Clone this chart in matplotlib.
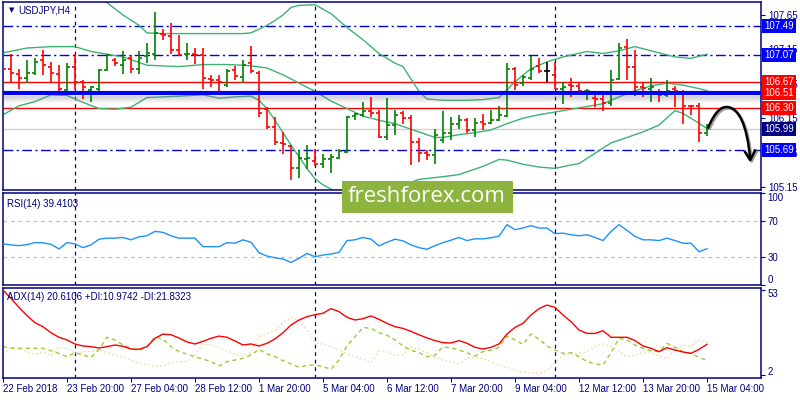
import matplotlib as mpl

mpl.use("Agg")
import matplotlib.pyplot as plt
import numpy as np
from matplotlib.patches import Rectangle
from matplotlib.path import Path
from matplotlib.patches import PathPatch
from matplotlib.transforms import offset_copy, blended_transform_factory

plt.rcParams["font.family"] = ["Liberation Sans", "DejaVu Sans"]

NAVY = "#000080"
UP = "#008000"
DOWN = "#ff0000"

# ---- H4 bars, 22 Feb 12:00 .. 15 Mar 04:00 ----
opens = [107.14, 106.87, 106.79, 106.74, 106.80, 106.99, 106.90, 106.79, 106.56, 106.90,
         106.68, 106.56, 106.57, 106.85, 107.00, 106.92, 107.03, 106.87, 107.05, 107.09,
         107.38, 107.35, 107.14, 107.08, 107.08, 107.07, 106.72, 106.70, 106.63, 106.85,
         106.75, 106.95, 106.81, 106.29, 106.02, 105.79, 105.74, 105.42, 105.55, 105.53,
         105.49, 105.55, 105.57, 105.66, 106.18, 106.20, 106.25, 106.22, 105.88, 106.05,
         106.22, 106.15, 105.81, 105.65, 105.62, 105.84, 105.93, 106.07, 106.13, 105.98,
         106.10, 106.08, 106.13, 106.18, 106.87, 106.66, 106.74, 106.91, 106.83, 106.78,
         106.58, 106.63, 106.62, 106.54, 106.45, 106.43, 106.37, 106.72, 107.18, 106.90,
         106.60, 106.58, 106.51, 106.49, 106.58, 106.51, 106.33, 106.32, 105.93]
highs = [107.41, 107.09, 106.86, 107.00, 107.03, 107.14, 106.96, 106.92, 106.95, 107.09,
         106.70, 106.62, 106.87, 107.09, 107.03, 107.12, 107.07, 107.12, 107.25, 107.70,
         107.44, 107.54, 107.36, 107.24, 107.17, 107.17, 106.78, 106.78, 106.87, 106.91,
         106.99, 107.20, 106.83, 106.31, 106.17, 105.95, 105.76, 105.69, 105.76, 105.70,
         105.63, 105.63, 105.70, 106.18, 106.23, 106.39, 106.46, 106.27, 106.44, 106.27,
         106.25, 106.20, 105.86, 105.69, 106.00, 106.25, 106.17, 106.20, 106.15, 106.15,
         106.21, 106.27, 106.32, 106.95, 106.90, 106.78, 107.05, 107.03, 106.97, 106.97,
         106.68, 106.73, 106.67, 106.58, 106.51, 106.49, 106.85, 107.24, 107.30, 107.14,
         106.68, 106.74, 106.57, 106.70, 106.62, 106.56, 106.34, 106.37, 106.07]
lows = [106.85, 106.66, 106.58, 106.66, 106.78, 106.78, 106.68, 106.51, 106.55, 106.56,
        106.43, 106.38, 106.55, 106.83, 106.91, 106.79, 106.81, 106.79, 106.95, 106.99,
        107.29, 107.08, 107.05, 106.99, 106.94, 106.57, 106.60, 106.55, 106.60, 106.70,
        106.66, 106.80, 106.16, 106.00, 105.76, 105.63, 105.25, 105.28, 105.41, 105.46,
        105.42, 105.35, 105.55, 105.65, 106.12, 106.16, 106.17, 105.86, 105.84, 105.91,
        106.07, 105.47, 105.52, 105.54, 105.49, 105.79, 105.83, 106.00, 105.94, 105.88,
        105.98, 106.07, 106.11, 106.17, 106.56, 106.62, 106.70, 106.81, 106.68, 106.57,
        106.36, 106.46, 106.49, 106.42, 106.31, 106.25, 106.33, 106.70, 106.70, 106.47,
        106.46, 106.39, 106.38, 106.46, 106.31, 106.07, 106.20, 105.81, 105.89]
closes = [106.87, 106.81, 106.74, 106.81, 106.97, 106.92, 106.81, 106.57, 106.89, 106.68,
          106.60, 106.60, 106.85, 107.07, 106.95, 107.00, 106.87, 107.03, 107.10, 107.39,
          107.36, 107.14, 107.07, 107.09, 107.07, 106.73, 106.70, 106.67, 106.84, 106.76,
          106.92, 106.83, 106.23, 106.02, 105.81, 105.77, 105.42, 105.57, 105.57, 105.48,
          105.55, 105.59, 105.68, 106.17, 106.21, 106.25, 106.22, 105.87, 106.05, 106.20,
          106.15, 105.81, 105.65, 105.62, 105.91, 105.93, 106.07, 106.13, 105.98, 106.08,
          106.07, 106.13, 106.20, 106.87, 106.63, 106.75, 106.86, 106.83, 106.83, 106.58,
          106.60, 106.62, 106.55, 106.55, 106.43, 106.37, 106.70, 107.17, 106.90, 106.60,
          106.59, 106.60, 106.49, 106.55, 106.54, 106.33, 106.32, 105.93, 105.99]

# ---- Bollinger bands, read as (bar, price) vertices ----
bb_up_x = [0, 4, 8, 11, 13, 15, 17, 18, 20, 24, 28, 30, 31, 33, 34, 35, 36, 37, 39, 41, 43,
           45, 47, 49, 50, 51, 52, 53, 55, 58, 60, 62, 63, 64, 66, 68, 70, 73, 75, 77, 79,
           81, 84, 86, 88]
bb_up_y = [108.15, 108.12, 108.05, 107.95, 107.83, 107.65, 107.50, 107.39, 107.38, 107.38,
           107.38, 107.38, 107.39, 107.50, 107.57, 107.65, 107.76, 107.79, 107.80, 107.67,
           107.47, 107.29, 107.09, 106.95, 106.90, 106.72, 106.54, 106.43, 106.41, 106.41,
           106.42, 106.45, 106.56, 106.68, 106.87, 106.97, 107.04, 107.12, 107.09, 107.13,
           107.19, 107.13, 107.04, 107.02, 107.08]
bb_mid_x = [0, 3, 6, 9, 11, 13, 15, 17, 18, 22, 25, 28, 30, 31, 33, 35, 37, 39, 41, 43, 45,
            47, 49, 50, 52, 54, 55, 57, 59, 61, 63, 65, 67, 69, 71, 73, 75, 77, 79, 81, 83,
            85, 87, 88]
bb_mid_y = [107.10, 107.17, 107.19, 107.19, 107.12, 107.08, 107.04, 106.96, 106.92, 106.90,
            106.93, 106.93, 106.92, 106.91, 106.88, 106.78, 106.66, 106.54, 106.40, 106.29,
            106.18, 106.12, 106.07, 106.03, 105.95, 105.87, 105.87, 105.91, 105.94, 105.98,
            106.07, 106.15, 106.20, 106.24, 106.28, 106.32, 106.36, 106.46, 106.55, 106.62,
            106.66, 106.63, 106.58, 106.55]
bb_lo_x = [0, 2, 4, 6, 8, 10, 12, 14, 16, 18, 22, 25, 27, 29, 31, 32, 33, 34, 35, 36, 37,
           38, 39, 40, 41, 43, 45, 47, 49, 50, 52, 55, 57, 60, 62, 63, 65, 67, 69, 71, 72,
           74, 76, 78, 80, 82, 84, 85, 86, 88]
bb_lo_y = [106.20, 106.33, 106.39, 106.49, 106.48, 106.38, 106.29, 106.28, 106.31, 106.45,
           106.47, 106.49, 106.44, 106.46, 106.47, 106.41, 106.29, 106.12, 105.94, 105.76,
           105.59, 105.42, 105.27, 105.18, 105.12, 105.01, 104.96, 104.98, 105.11, 105.18,
           105.26, 105.30, 105.33, 105.45, 105.55, 105.54, 105.48, 105.44, 105.42, 105.47,
           105.49, 105.64, 105.79, 105.87, 105.95, 106.05, 106.26, 106.22, 106.15, 106.00]

# ---- RSI(14) ----
rsi = [44.7, 43.6, 42.8, 43.9, 46.1, 45.8, 44.3, 39.2, 46.1, 44.7,
       40.6, 43.6, 49.8, 50.9, 50.9, 51.7, 49.1, 52.4, 53.5, 58.3,
       57.2, 53.5, 50.9, 50.9, 50.9, 41.7, 41.7, 41.7, 46.1, 45.4,
       49.1, 46.5, 35.1, 31.5, 29.6, 28.2, 24.5, 28.9, 34.4, 30.7,
       32.6, 33.7, 35.5, 48.3, 49.1, 51.7, 49.8, 42.5, 46.5, 49.8,
       48.0, 43.6, 40.6, 38.8, 42.8, 46.1, 48.7, 51.7, 48.3, 50.2,
       50.2, 51.3, 53.1, 65.6, 60.1, 61.9, 64.5, 61.9, 61.9, 55.7,
       56.4, 54.6, 53.5, 54.6, 51.7, 48.3, 58.3, 65.6, 59.4, 52.8,
       49.1, 49.1, 48.3, 50.9, 48.3, 45.4, 45.4, 36.2, 39.4]

# ---- ADX(14), +DI, -DI ----
adx = [53.0, 48.0, 42.6, 37.7, 33.5, 31.1, 27.5, 24.8, 23.2, 20.8,
       19.6, 19.2, 18.4, 19.2, 20.2, 19.4, 17.8, 17.6, 19.2, 24.2,
       26.7, 26.3, 24.4, 22.0, 20.8, 22.4, 24.2, 25.5, 24.8, 22.6,
       20.2, 20.8, 19.6, 21.2, 23.8, 27.5, 32.1, 35.1, 37.1, 38.3,
       39.1, 41.9, 40.1, 36.7, 35.1, 35.9, 37.5, 35.5, 33.1, 31.1,
       30.1, 28.3, 26.3, 24.4, 22.8, 21.6, 21.4, 22.8, 21.2, 18.8,
       17.8, 18.8, 20.8, 26.7, 30.7, 33.1, 38.1, 41.9, 44.0, 42.6,
       38.1, 34.1, 29.1, 27.1, 27.1, 28.7, 24.8, 24.8, 24.8, 22.8,
       19.6, 18.2, 16.2, 18.6, 17.2, 16.0, 15.2, 17.6, 20.6]
plus_di = [19.2, 18.4, 18.2, 18.2, 18.2, 18.2, 16.8, 15.2, 13.2, 15.6,
           14.2, 12.8, 17.6, 24.8, 23.2, 20.2, 18.2, 16.8, 19.2, 25.2,
           23.6, 19.2, 16.2, 14.8, 13.2, 11.8, 10.3, 7.7, 10.3, 11.2,
           12.2, 14.2, 17.6, 14.8, 13.2, 10.8, 8.9, 6.9, 8.1, 8.3,
           7.3, 5.7, 11.2, 19.6, 25.2, 30.7, 30.1, 27.5, 26.0, 23.2,
           19.6, 17.0, 15.6, 13.2, 14.0, 19.2, 18.4, 17.2, 15.6, 13.6,
           16.2, 17.2, 18.8, 25.5, 23.2, 20.6, 26.7, 23.6, 19.6, 17.2,
           15.2, 15.6, 13.2, 10.3, 8.9, 8.3, 15.6, 24.2, 23.2, 20.2,
           18.2, 16.6, 16.2, 21.2, 18.8, 16.2, 15.2, 12.8, 11.0]
minus_di = [14.2, 18.8, 18.2, 16.2, 14.6, 16.2, 13.8, 18.8, 18.4, 15.2,
            16.2, 16.4, 17.2, 15.6, 14.0, 13.0, 11.2, 9.3, 8.7, 7.3,
            7.7, 9.7, 10.3, 10.3, 14.2, 20.8, 20.2, 18.8, 16.8, 14.6,
            13.6, 15.6, 25.2, 27.1, 28.7, 33.5, 36.7, 34.5, 29.1, 21.6,
            20.8, 19.2, 17.2, 14.8, 13.2, 11.8, 9.7, 16.8, 16.0, 14.0,
            14.2, 19.2, 17.6, 15.6, 12.8, 11.2, 10.0, 8.9, 12.2, 13.2,
            12.0, 10.3, 7.9, 6.7, 5.3, 4.1, 3.7, 3.1, 4.9, 9.7,
            14.0, 14.8, 15.2, 16.2, 19.2, 20.8, 19.2, 16.2, 13.2, 14.2,
            15.6, 15.6, 13.6, 12.2, 17.6, 19.8, 19.2, 23.6, 21.8]

# ---- drawn objects ----
blue_levels = [107.49, 107.07, 105.69]
red_levels = [106.67, 106.30]
key_level = 106.51
bid_level = 105.99
separators = [9, 39, 69]
price_ticks = [107.65, 107.15, 106.65, 106.15, 105.65, 105.15]
price_boxes = [(107.49, "#0000ff"), (107.07, "#0000ff"), (106.67, "#ff0000"),
               (106.51, "#ff0000"), (106.30, "#ff0000"), (105.99, NAVY),
               (105.69, "#0000ff")]
date_ticks = [0, 8, 16, 24, 32, 40, 48, 56, 64, 72, 80, 88]
date_labels = ["22 Feb 2018", "23 Feb 20:00", "27 Feb 04:00", "28 Feb 12:00",
               "1 Mar 20:00", "5 Mar 04:00", "6 Mar 12:00", "7 Mar 20:00",
               "9 Mar 04:00", "12 Mar 12:00", "13 Mar 20:00", "15 Mar 04:00"]
# hand-drawn forecast arrow (bar, price)
arrow_curve = [(88.1, 106.00), (89.0, 106.25), (89.8, 106.33), (90.7, 106.31),
               (91.8, 106.29), (93.0, 106.10), (93.4, 105.55)]
arrow_head = [(92.75, 105.66), (93.4, 105.54), (94.0, 105.68)]

x = np.arange(len(closes))
o, h, l, c = map(np.array, (opens, highs, lows, closes))
cols = np.where(c > o, UP, np.where(c < o, DOWN, "black"))

fig = plt.figure(figsize=(8, 4), dpi=100)
left, width = 2.5 / 800, (761 - 2.5) / 800
ax0 = fig.add_axes([left, 1 - 190 / 400, width, 188 / 400])
ax1 = fig.add_axes([left, 1 - 285 / 400, width, 92 / 400])
ax2 = fig.add_axes([left, 1 - 378 / 400, width, 90 / 400])
XLIM = (-0.06, 94.75)

for ax in (ax0, ax1, ax2):
    ax.set_xlim(*XLIM)
    for s in ax.spines.values():
        s.set_color(NAVY)
        s.set_linewidth(1.1)
    ax.yaxis.tick_right()
    ax.tick_params(axis="y", colors=NAVY, labelcolor=NAVY, length=3, width=0.8,
                   labelsize=7, pad=2)
    ax.tick_params(axis="x", bottom=False, labelbottom=False)
    for sx in separators:
        ax.axvline(sx, color=NAVY, lw=0.9, ls=(0, (3, 3)), zorder=1)

# main panel
ax0.set_ylim(105.106, 107.839)
ax0.set_yticks(price_ticks)
ax0.set_yticklabels([f"{v:.2f}" for v in price_ticks])
for lv in blue_levels:
    ax0.axhline(lv, color="#0000e6", lw=1.0, ls=(0, (7, 2.5, 1.5, 2.5)), zorder=2)
for lv in red_levels:
    ax0.axhline(lv, color="#ff0000", lw=1.0, zorder=2)
ax0.axhline(bid_level, color="#d0d0d0", lw=1.0, zorder=1.5)
for k in range(1, 8):
    tr = offset_copy(ax0.transData, fig=fig, y=-1.5 - k, units="dots")
    ax0.plot(XLIM, [key_level, key_level], color="#808080", lw=1.0,
             alpha=0.32 * (1 - k / 8), transform=tr, zorder=2.5)
ax0.axhline(key_level, color="#0000ff", lw=3.0, zorder=5)

ax0.plot(bb_up_x, bb_up_y, color="#3cb371", lw=1.0, zorder=2)
ax0.plot(bb_mid_x, bb_mid_y, color="#3cb371", lw=1.0, zorder=2)
ax0.plot(bb_lo_x, bb_lo_y, color="#3cb371", lw=1.0, zorder=2)

ax0.vlines(x, l, h, colors=cols, lw=1.2, zorder=4)
ax0.hlines(o, x - 0.42, x, colors=cols, lw=1.2, zorder=4)
ax0.hlines(c, x, x + 0.42, colors=cols, lw=1.2, zorder=4)

ytr = blended_transform_factory(ax0.transAxes, ax0.transData)
for val, fc in price_boxes:
    ax0.text(1.0045, val, f"{val:.2f}", transform=ytr, ha="left", va="center",
             color="white", fontsize=7, clip_on=False, zorder=10,
             bbox=dict(boxstyle="square,pad=0.2", fc=fc, ec="none"))

verts = [(px, py) for px, py in arrow_curve]
codes = [Path.MOVETO] + [Path.CURVE4] * 6
shadow = offset_copy(ax0.transData, fig=fig, x=1.5, y=-1.5, units="dots")
ax0.add_patch(PathPatch(Path(verts, codes), fc="none", ec="#a0a0a0", lw=1.8,
                        transform=shadow, clip_on=False, zorder=6))
ax0.add_patch(PathPatch(Path(verts, codes), fc="none", ec="black", lw=1.8,
                        clip_on=False, zorder=7))
hx, hy = zip(*arrow_head)
ax0.plot(hx, hy, color="#a0a0a0", lw=1.8, transform=shadow, zorder=6)
ax0.plot(hx, hy, color="black", lw=1.8, zorder=7)

ax0.text(0.009, 0.955, "▼", transform=ax0.transAxes, fontsize=5, color=NAVY,
         family="DejaVu Sans", va="center")
ax0.text(0.021, 0.955, "USDJPY,H4", transform=ax0.transAxes, fontsize=7,
         color=NAVY, va="center")

# RSI panel
ax1.set_ylim(0, 100)
ax1.set_yticks([100, 70, 30, 0])
ax1.set_yticklabels(["", "70", "30", ""])
rtr = blended_transform_factory(ax1.transAxes, ax1.transData)
ax1.text(1.0085, 100, "100", transform=rtr, va="top", ha="left", fontsize=7, color=NAVY)
ax1.text(1.0085, 0, "0", transform=rtr, va="bottom", ha="left", fontsize=7, color=NAVY)
for lv in (70, 30):
    ax1.axhline(lv, color="#c0c0c0", lw=0.9, ls=(0, (3, 3)), zorder=1)
ax1.plot(x, rsi, color="#1e90ff", lw=1.0, zorder=3)
ax1.text(0.006, 0.88, f"RSI(14) {39.4103:.4f}", transform=ax1.transAxes,
         fontsize=7, color=NAVY, va="center")

# ADX panel
ax2.set_ylim(0.5, 54.2)
ax2.set_yticks([53, 2])
ax2.set_yticklabels(["", ""])
atr = blended_transform_factory(ax2.transAxes, ax2.transData)
ax2.text(1.0085, 53.5, "53", transform=atr, va="top", ha="left", fontsize=7, color=NAVY)
ax2.text(1.0085, 1.2, "2", transform=atr, va="bottom", ha="left", fontsize=7, color=NAVY)
ax2.plot(x, minus_di, color="#f5deb3", lw=1.0, ls=(0, (1.5, 1.5)), zorder=2)
ax2.plot(x, plus_di, color="#9acd32", lw=1.0, ls=(0, (3, 2.5)), zorder=2)
ax2.plot(x, adx, color="#ff0000", lw=1.0, zorder=3)
ax2.text(0.006, 0.9, "ADX(14) 20.6106 +DI:10.9742 -DI:21.8323",
         transform=ax2.transAxes, fontsize=7, color=NAVY, va="center")

ax2.set_xticks(date_ticks)
ax2.set_xticklabels(date_labels)
ax2.tick_params(axis="x", bottom=True, labelbottom=True, colors=NAVY,
                labelcolor=NAVY, length=3, width=0.8, labelsize=7, pad=1.5)
for t in ax2.get_xticklabels():
    t.set_ha("left")

# watermark
fig.add_artist(Rectangle((342 / 800, 1 - 213 / 400), 171 / 800, 32 / 400,
                         transform=fig.transFigure, fc="#8db43e", ec="none",
                         zorder=20))
fig.text(427 / 800, 1 - 197 / 400, "freshforex.com", family="Open Sans",
         fontsize=16, color="white", ha="center", va="center", zorder=21)

fig.savefig("out.png", dpi=100)
